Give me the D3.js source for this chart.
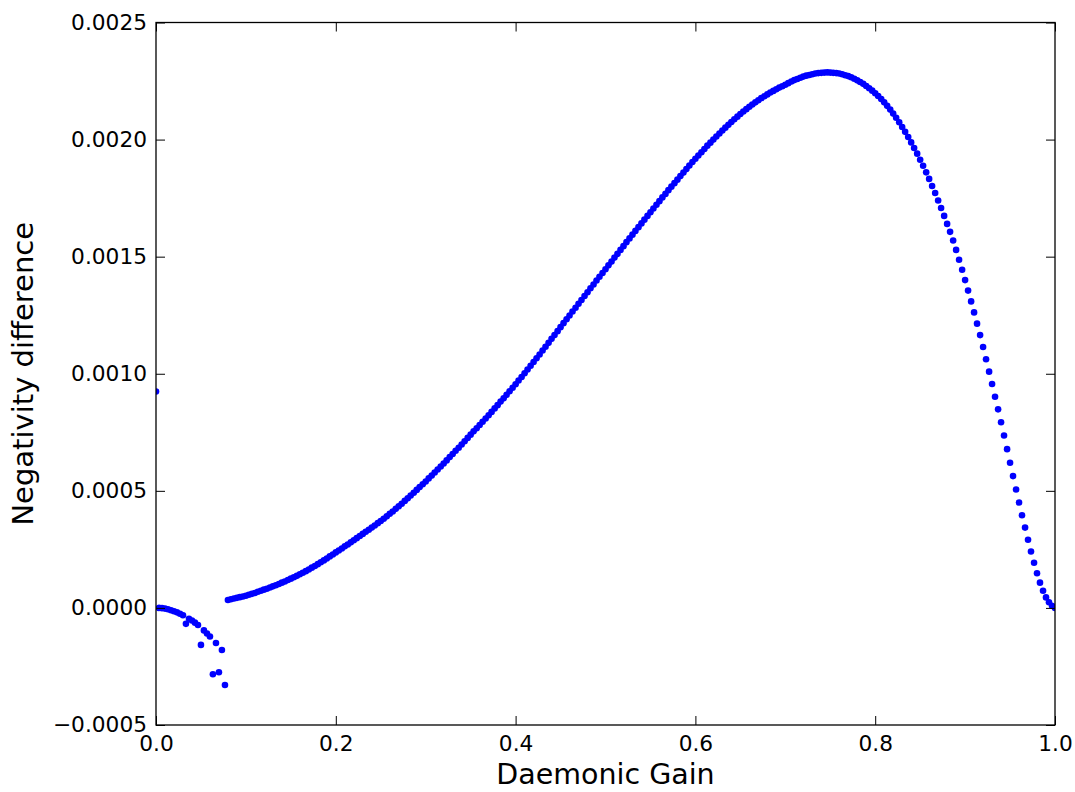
<!DOCTYPE html>
<html>
<head>
<meta charset="utf-8">
<script src="https://cdn.jsdelivr.net/npm/d3@7"></script>
<style>
  html, body { margin: 0; padding: 0; background: #fff; }
  svg { display: block; font-family: "DejaVu Sans", sans-serif; }
</style>
</head>
<body>
<svg id="chart" width="1075" height="792"></svg>
<script>
// ========= Data =========
// gain grid (x): one sample every 1/300
const gain = [
  0, .0033, .0067, .01, .0133, .0167, .02, .0233, .0267, .03, .0333, .0367, .04, .0433, .0467,
  .05, .0533, .0567, .06, .0633, .0667, .07, .0733, .0767, .08, .0833, .0867, .09, .0933, .0967,
  .1, .1033, .1067, .11, .1133, .1167, .12, .1233, .1267, .13, .1333, .1367, .14, .1433, .1467,
  .15, .1533, .1567, .16, .1633, .1667, .17, .1733, .1767, .18, .1833, .1867, .19, .1933, .1967,
  .2, .2033, .2067, .21, .2133, .2167, .22, .2233, .2267, .23, .2333, .2367, .24, .2433, .2467,
  .25, .2533, .2567, .26, .2633, .2667, .27, .2733, .2767, .28, .2833, .2867, .29, .2933, .2967,
  .3, .3033, .3067, .31, .3133, .3167, .32, .3233, .3267, .33, .3333, .3367, .34, .3433, .3467,
  .35, .3533, .3567, .36, .3633, .3667, .37, .3733, .3767, .38, .3833, .3867, .39, .3933, .3967,
  .4, .4033, .4067, .41, .4133, .4167, .42, .4233, .4267, .43, .4333, .4367, .44, .4433, .4467,
  .45, .4533, .4567, .46, .4633, .4667, .47, .4733, .4767, .48, .4833, .4867, .49, .4933, .4967,
  .5, .5033, .5067, .51, .5133, .5167, .52, .5233, .5267, .53, .5333, .5367, .54, .5433, .5467,
  .55, .5533, .5567, .56, .5633, .5667, .57, .5733, .5767, .58, .5833, .5867, .59, .5933, .5967,
  .6, .6033, .6067, .61, .6133, .6167, .62, .6233, .6267, .63, .6333, .6367, .64, .6433, .6467,
  .65, .6533, .6567, .66, .6633, .6667, .67, .6733, .6767, .68, .6833, .6867, .69, .6933, .6967,
  .7, .7033, .7067, .71, .7133, .7167, .72, .7233, .7267, .73, .7333, .7367, .74, .7433, .7467,
  .75, .7533, .7567, .76, .7633, .7667, .77, .7733, .7767, .78, .7833, .7867, .79, .7933, .7967,
  .8, .8033, .8067, .81, .8133, .8167, .82, .8233, .8267, .83, .8333, .8367, .84, .8433, .8467,
  .85, .8533, .8567, .86, .8633, .8667, .87, .8733, .8767, .88, .8833, .8867, .89, .8933, .8967,
  .9, .9033, .9067, .91, .9133, .9167, .92, .9233, .9267, .93, .9333, .9367, .94, .9433, .9467,
  .95, .9533, .9567, .96, .9633, .9667, .97, .9733, .9767, .98, .9833, .9867, .99, .9933, .9967,
  1
];

// negativity difference, in units of 1e-5
const negDiffE5 = [
  92.4, 0, -0.1, -0.3, -0.6, -1.0, -1.4, -1.9, -2.5, -3.1, -6.8, -4.6, -5.4, -6.3, -7.3,
  -15.8, -9.6, -10.9, -12.2, -28.3, -15.0, -27.5, -18.0, -32.9, 3.4, 3.7, 4.0, 4.3, 4.6, 4.9,
  5.2, 5.6, 6.0, 6.4, 6.9, 7.3, 7.8, 8.2, 8.7, 9.2, 9.7, 10.2, 10.8, 11.3, 11.9,
  12.5, 13.1, 13.7, 14.4, 15.0, 15.7, 16.4, 17.2, 17.9, 18.7, 19.5, 20.3, 21.1, 22.0, 22.8,
  23.7, 24.5, 25.4, 26.3, 27.1, 28.0, 28.9, 29.8, 30.7, 31.6, 32.5, 33.4, 34.3, 35.2, 36.2,
  37.1, 38.1, 39.1, 40.2, 41.2, 42.3, 43.4, 44.5, 45.7, 46.8, 48.0, 49.2, 50.4, 51.6, 52.8,
  54.0, 55.3, 56.5, 57.8, 59.1, 60.4, 61.7, 63.0, 64.4, 65.7, 67.1, 68.4, 69.8, 71.2, 72.6,
  74.0, 75.4, 76.7, 78.1, 79.5, 80.9, 82.3, 83.7, 85.2, 86.6, 88.1, 89.5, 91.0, 92.5, 94.0,
  95.5, 97.1, 98.6, 100.2, 101.8, 103.4, 105.0, 106.6, 108.2, 109.9, 111.5, 113.2, 114.9, 116.5, 118.2,
  119.9, 121.6, 123.3, 124.9, 126.6, 128.2, 129.9, 131.5, 133.2, 134.8, 136.5, 138.1, 139.8, 141.4, 143.0,
  144.6, 146.3, 147.9, 149.6, 151.2, 152.9, 154.5, 156.2, 157.8, 159.4, 161.0, 162.6, 164.2, 165.8, 167.4,
  169.0, 170.6, 172.2, 173.7, 175.3, 176.8, 178.4, 179.9, 181.4, 182.9, 184.4, 185.9, 187.4, 188.9, 190.4,
  191.8, 193.2, 194.6, 196.0, 197.4, 198.7, 200.0, 201.3, 202.6, 203.9, 205.1, 206.3, 207.5, 208.7, 209.8,
  210.9, 212.0, 213.0, 214.0, 215.0, 215.9, 216.8, 217.7, 218.5, 219.3, 220.1, 220.8, 221.5, 222.2, 222.8,
  223.4, 224.1, 224.8, 225.4, 225.9, 226.4, 226.9, 227.3, 227.6, 227.9, 228.2, 228.4, 228.5, 228.6, 228.7,
  228.6, 228.5, 228.4, 228.2, 227.9, 227.5, 227.1, 226.6, 226.0, 225.3, 224.6, 223.8, 222.9, 221.9, 220.9,
  219.8, 218.6, 217.3, 215.9, 214.4, 212.8, 211.1, 209.3, 207.4, 205.4, 203.3, 201.1, 198.8, 196.4, 194.0,
  191.4, 188.8, 186.0, 183.2, 180.2, 177.2, 174.0, 170.8, 167.4, 164.0, 160.6, 156.9, 152.9, 148.7, 144.4,
  140.0, 135.5, 130.9, 126.2, 121.4, 116.5, 111.4, 106.2, 100.9, 95.6, 90.2, 84.8, 79.3, 73.6, 67.8,
  62.0, 56.3, 50.6, 45.0, 39.6, 34.3, 29.1, 24.1, 19.3, 14.8, 10.8, 7.3, 4.5, 2.4, 0.9,
  0
];

const xTicks = [0, 0.2, 0.4, 0.6, 0.8, 1.0];
const yTicks = [-0.0005, 0, 0.0005, 0.001, 0.0015, 0.002, 0.0025];
const xLabel = "Daemonic Gain";
const yLabel = "Negativity difference";

// ========= Layout =========
const svg = d3.select("#chart");
const margin = { top: 22.5, right: 20, bottom: 67, left: 156 };
const W = 1075, H = 792;
const innerW = W - margin.left - margin.right;
const innerH = H - margin.top - margin.bottom;

svg.append("rect").attr("width", W).attr("height", H).attr("fill", "#fff");

const x = d3.scaleLinear().domain([0, 1]).range([0, innerW]);
const y = d3.scaleLinear().domain([-0.0005, 0.0025]).range([innerH, 0]);

const g = svg.append("g").attr("transform", `translate(${margin.left},${margin.top})`);

svg.append("defs").append("clipPath").attr("id", "plotClip")
  .append("rect").attr("width", innerW).attr("height", innerH);

const points = gain.map((gv, i) => ({ gain: gv, value: negDiffE5[i] * 1e-5 }));

// ========= Points =========
g.append("g")
  .attr("clip-path", "url(#plotClip)")
  .selectAll("circle")
  .data(points)
  .join("circle")
  .attr("cx", d => x(d.gain))
  .attr("cy", d => y(d.value))
  .attr("r", 3.3)
  .attr("fill", "#0000ff");

// ========= Axes (matplotlib classic: inward ticks on all sides) =========
const tickLen = 9;
const fontTick = 21.7;
const fmtY = v => (v < 0 ? "\u2212" : "") + Math.abs(v).toFixed(4);
const fmtX = v => v.toFixed(1);

const axB = g.append("g").attr("transform", `translate(0,${innerH})`)
  .call(d3.axisBottom(x).tickValues(xTicks).tickFormat(fmtX).tickSizeInner(-tickLen).tickSizeOuter(0).tickPadding(11));
const axT = g.append("g")
  .call(d3.axisTop(x).tickValues(xTicks).tickFormat("").tickSizeInner(-tickLen).tickSizeOuter(0));
const axL = g.append("g")
  .call(d3.axisLeft(y).tickValues(yTicks).tickFormat(fmtY).tickSizeInner(-tickLen).tickSizeOuter(0).tickPadding(9));
const axR = g.append("g").attr("transform", `translate(${innerW},0)`)
  .call(d3.axisRight(y).tickValues(yTicks).tickFormat("").tickSizeInner(-tickLen).tickSizeOuter(0));

[axB, axT, axL, axR].forEach(a => {
  a.select(".domain").remove();
  a.selectAll(".tick line").attr("stroke", "#000").attr("stroke-width", 1);
  a.selectAll("text")
    .attr("fill", "#000")
    .attr("font-family", "DejaVu Sans")
    .attr("font-size", fontTick);
});

// frame
g.append("rect")
  .attr("width", innerW).attr("height", innerH)
  .attr("fill", "none").attr("stroke", "#000").attr("stroke-width", 1.3);

// ========= Labels =========
svg.append("text")
  .attr("x", margin.left + innerW / 2)
  .attr("y", 784)
  .attr("text-anchor", "middle")
  .attr("font-size", 28.5)
  .attr("fill", "#000")
  .text(xLabel);

svg.append("text")
  .attr("transform", `translate(33,${margin.top + innerH / 2}) rotate(-90)`)
  .attr("text-anchor", "middle")
  .attr("font-size", 29)
  .attr("fill", "#000")
  .text(yLabel);
</script>
</body>
</html>
